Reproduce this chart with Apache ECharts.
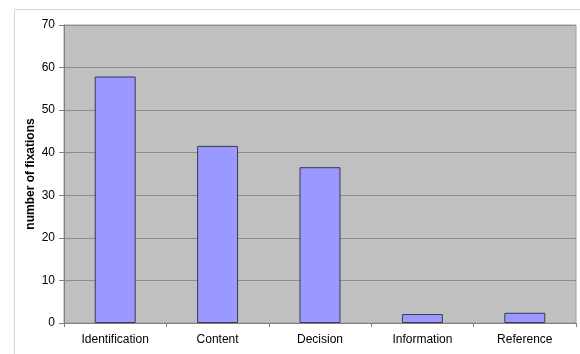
<!DOCTYPE html>
<html>
<head>
<meta charset="utf-8">
<script src="https://cdn.jsdelivr.net/npm/echarts@6/dist/echarts.min.js"></script>
<style>
  html, body { margin: 0; padding: 0; background: #fff; }
  #chart { width: 580px; height: 354px; }
</style>
</head>
<body>
<div id="chart"></div>
<script>
const categories = ["Identification", "Content", "Decision", "Information", "Reference"];
const fixations = [57.9, 41.6, 36.6, 2.1, 2.4];
const yTicks = [0, 10, 20, 30, 40, 50, 60, 70];

const myChart = echarts.init(document.getElementById("chart"));

const options = {
  animation: false,
  graphic: [
    {
      type: "rect",
      shape: { x: 14.5, y: 9.5, width: 600, height: 400 },
      style: { fill: "none", stroke: "#d4d4d4", lineWidth: 1 },
      z: -10,
    },
  ],
  grid: {
    left: 64,
    right: 4,
    top: 25,
    bottom: 31,
    show: true,
    backgroundColor: "#c0c0c0",
    borderColor: "#a0a0a0",
    borderWidth: 1,
  },
  xAxis: {
    type: "category",
    data: categories,
    axisLine: { lineStyle: { color: "#808080", width: 1 } },
    axisTick: { show: true, length: 4, lineStyle: { color: "#808080" } },
    axisLabel: {
      color: "#000",
      fontFamily: "Liberation Sans, Arial, sans-serif",
      fontSize: 12,
      margin: 11,
    },
  },
  yAxis: {
    type: "value",
    min: yTicks[0],
    max: yTicks[yTicks.length - 1],
    interval: 10,
    name: "number of fixations",
    nameLocation: "middle",
    nameGap: 27,
    nameMoveOverlap: false,
    nameTextStyle: {
      color: "#000",
      fontFamily: "Liberation Sans, Arial, sans-serif",
      fontSize: 12,
      fontWeight: "bold",
    },
    axisLine: { show: true, lineStyle: { color: "#808080" } },
    axisTick: { show: true, length: 5, lineStyle: { color: "#808080" } },
    axisLabel: {
      color: "#000",
      fontFamily: "Liberation Sans, Arial, sans-serif",
      fontSize: 12,
      margin: 9,
    },
    splitLine: { show: true, lineStyle: { color: "#8c8c8c", width: 1 } },
  },
  series: [
    {
      type: "bar",
      data: fixations,
      barWidth: "40%",
      itemStyle: {
        color: "#9999ff",
        borderColor: "#3a3a50",
        borderWidth: 1,
      },
    },
  ],
};

myChart.setOption(options);
</script>
</body>
</html>
